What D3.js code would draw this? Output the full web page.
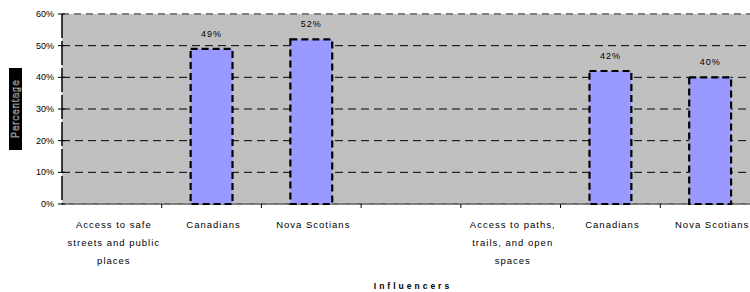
<!DOCTYPE html>
<html><head><meta charset="utf-8">
<script src="https://cdn.jsdelivr.net/npm/d3@7"></script>
<style>body{margin:0;background:#fff;}svg{display:block;font-family:"Liberation Sans",Arial,sans-serif;}</style>
</head><body>
<svg id="c" width="750" height="292"></svg>
<script>
const categories = [
  "Access to safe streets and public places", "Canadians", "Nova Scotians", "",
  "Access to paths, trails, and open spaces", "Canadians", "Nova Scotians"];
const labelLines = [
  ["Access to safe","streets and public","places"], ["Canadians"], ["Nova Scotians"], [],
  ["Access to paths,","trails, and open","spaces"], ["Canadians"], ["Nova Scotians"]];
const values = [null, 49, 52, null, null, 42, 40];
const yTicks = [0, 10, 20, 30, 40, 50, 60];
const yTitle = "Percentage";
const xTitle = "Influencers";

const svg = d3.select("#c");
const L = 62, R = 760, T = 14, B = 204;
const x = d3.scaleBand().domain(d3.range(categories.length)).range([L, R]);
const y = d3.scaleLinear().domain([0, 60]).range([B, T]);

// plot background
svg.append("rect").attr("x", L).attr("y", T).attr("width", R - L).attr("height", B - T).attr("fill", "#C0C0C0");

// gridlines
svg.append("g").selectAll("line").data(yTicks.filter(d => d > 0 && d < 60)).join("line")
  .attr("x1", L).attr("x2", R).attr("y1", d => y(d)).attr("y2", d => y(d))
  .attr("stroke", "#000").attr("stroke-width", 1).attr("stroke-dasharray", "8,5");
// top border gray dashed
svg.append("line").attr("x1", L).attr("x2", R).attr("y1", y(60)).attr("y2", y(60))
  .attr("stroke", "#808080").attr("stroke-width", 2).attr("stroke-dasharray", "7,5");
// bottom border gray dashed + black
svg.append("line").attr("x1", L).attr("x2", R).attr("y1", B).attr("y2", B)
  .attr("stroke", "#000").attr("stroke-width", 1);
svg.append("line").attr("x1", L).attr("x2", R).attr("y1", B).attr("y2", B)
  .attr("stroke", "#808080").attr("stroke-width", 2).attr("stroke-dasharray", "7,5");

// bars
const bw = x.bandwidth() * 0.42;
const bars = categories.map((c, i) => ({i, v: values[i]})).filter(d => d.v != null);
svg.append("g").selectAll("rect").data(bars).join("rect")
  .attr("x", d => x(d.i) + x.bandwidth() / 2 - bw / 2)
  .attr("y", d => y(d.v))
  .attr("width", bw).attr("height", d => B - y(d.v))
  .attr("fill", "#9999FF").attr("stroke", "#000").attr("stroke-width", 2.2)
  .attr("stroke-dasharray", "7,4");
svg.append("g").selectAll("text").data(bars).join("text")
  .attr("x", d => x(d.i) + x.bandwidth() / 2)
  .attr("y", d => y(d.v) - 12)
  .attr("text-anchor", "middle").attr("font-size", 9).attr("letter-spacing", 1).attr("fill", "#000")
  .text(d => d.v + "%");

// y axis
const yAxis = svg.append("g");
yAxis.append("line").attr("x1", L).attr("x2", L).attr("y1", T).attr("y2", B)
  .attr("stroke", "#000").attr("stroke-width", 1.5).attr("stroke-dasharray", "24,3");
yAxis.selectAll("line.t").data(yTicks).join("line").attr("class", "t")
  .attr("x1", L - 4).attr("x2", L + 3).attr("y1", d => y(d)).attr("y2", d => y(d))
  .attr("stroke", "#000").attr("stroke-width", 1);
yAxis.selectAll("text").data(yTicks).join("text")
  .attr("x", L - 8).attr("y", d => y(d)).attr("dy", "0.35em")
  .attr("text-anchor", "end").attr("font-size", 9).attr("fill", "#000")
  .text(d => d + "%");

// x axis ticks
const edges = d3.range(categories.length + 1).map(i => L + i * x.step());
svg.append("g").selectAll("line").data(edges.slice(1)).join("line")
  .attr("x1", d => d).attr("x2", d => d).attr("y1", B).attr("y2", B + 4)
  .attr("stroke", "#000").attr("stroke-width", 1);

// x labels
const xl = svg.append("g");
categories.forEach((c, i) => {
  labelLines[i].forEach((ln, j) => {
    xl.append("text").attr("x", x(i) + x.bandwidth() / 2 + 2).attr("y", 228 + j * 18)
      .attr("text-anchor", "middle").attr("font-size", 9.5).attr("letter-spacing", 1).attr("fill", "#000")
      .text(ln);
  });
});

// x title
svg.append("text").attr("x", 413).attr("y", 289).attr("text-anchor", "middle")
  .attr("font-size", 8.5).attr("font-weight", "bold").attr("letter-spacing", 3).text(xTitle);

// y title boxed
svg.append("rect").attr("x", 9).attr("y", 68).attr("width", 13).attr("height", 82).attr("fill", "#000");
svg.append("text").attr("transform", "translate(19,109) rotate(-90)")
  .attr("text-anchor", "middle").attr("font-size", 10).attr("letter-spacing", 0.8)
  .attr("fill", "#000").attr("stroke", "#ddd").attr("stroke-width", 0.4)
  .text(yTitle);
</script>
</body></html>
